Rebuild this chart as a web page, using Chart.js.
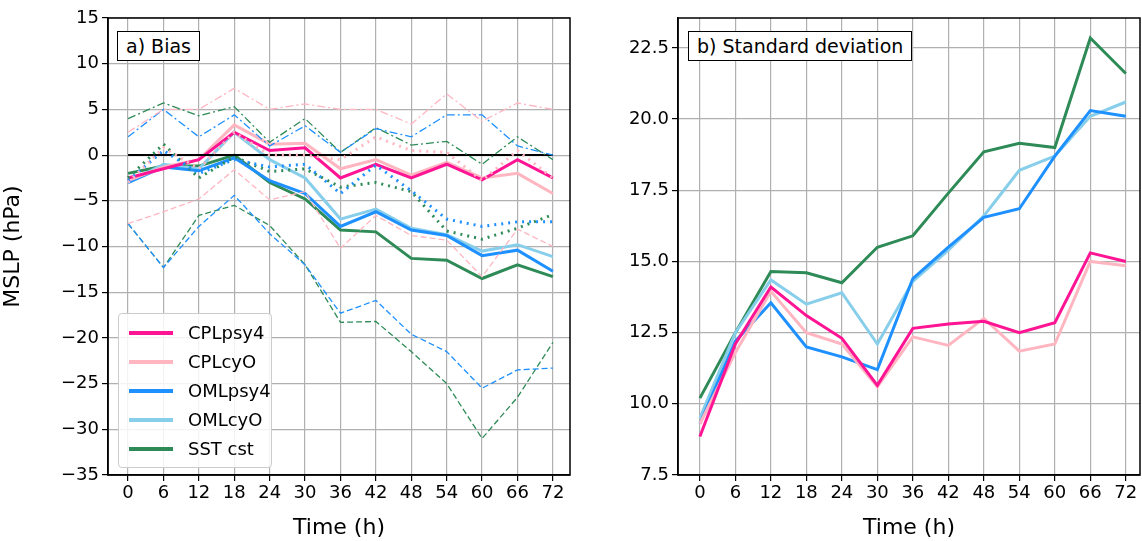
<!DOCTYPE html>
<html><head><meta charset="utf-8">
<script src="https://cdn.jsdelivr.net/npm/chart.js@4"></script>
<style>
body{margin:0;background:#fff;font-family:"DejaVu Sans",sans-serif;}
.box{position:absolute;}
.tag{position:absolute;border:1.5px solid #000;background:#fff;font-size:19px;padding:3px 8px;}
#legend{position:absolute;left:118px;top:313px;width:152px;border:1px solid #ccc;border-radius:4px;background:rgba(255,255,255,0.85);padding:4px 0;}
#legend div{display:flex;align-items:center;height:29px;font-size:18px;}
#legend span{display:inline-block;width:44px;height:4px;margin:0 15px 0 10px;}
</style></head><body>
<div class="box" style="left:0;top:0;width:575px;height:541px"><canvas id="ca"></canvas></div>
<div class="box" style="left:580px;top:0;width:562px;height:541px"><canvas id="cb"></canvas></div>
<div class="tag" style="left:117px;top:31px">a) Bias</div>
<div class="tag" style="left:688px;top:31px">b) Standard deviation</div>
<div id="legend"></div>
<script>
const hours = [0, 6, 12, 18, 24, 30, 36, 42, 48, 54, 60, 66, 72];
const names = ["CPLpsy4", "CPLcyO", "OMLpsy4", "OMLcyO", "SST cst"];
const colors = ["#ff1493", "#ffb6c1", "#1e90ff", "#87ceeb", "#2e8b57"];

// bias: mean (solid)
const biasMean = [
  [-2.5, -1.5, -0.5, 2.5, 0.5, 0.8, -2.5, -1, -2.5, -1, -2.7, -0.5, -2.5],
  [-2.8, -1.3, -0.5, 3.3, 1.2, 1.3, -1.5, -0.5, -2.2, -0.8, -2.5, -2, -4.2],
  [-3, -1.3, -1.7, -0.3, -2.8, -4.2, -7.8, -6.2, -8.2, -8.8, -11, -10.4, -12.7],
  [-3, -1, -1.5, 2.5, -0.5, -2.5, -7, -5.9, -8, -8.7, -10.5, -9.8, -11.1],
  [-2, -1.2, -1.2, 0, -3, -4.8, -8.2, -8.4, -11.3, -11.5, -13.5, -12, -13.3]
];
// bias: dotted
const biasDot = {
  1: [-3, 0.8, -1.5, 2.5, 0, 0, -0.5, 2, 0.5, 0.3, -2.8, 0.5, -2.5],
  2: [-2.8, 0.5, -2, -0.5, -1.3, -1, -4.2, -1.1, -3.9, -7, -7.8, -7.3, -7.3],
  4: [-2.5, 1.2, -2.5, -0.2, -1.8, -1.5, -3.5, -3, -4, -8.3, -9.2, -8, -6.5]
};
// bias: dash-dot (upper)
const biasUp = {
  1: [2.5, 5, 5, 7.3, 5, 5.6, 5, 5, 3.4, 6.7, 3.7, 5.7, 5],
  2: [2, 5, 2, 4.4, 1, 3.2, 0.3, 2.9, 2, 4.4, 4.4, 1, 0],
  4: [4, 5.7, 4.3, 5.3, 1.4, 4, 0.3, 3, 1.1, 1.5, -1, 2, -0.5]
};
// bias: dashed (lower)
const biasLow = {
  1: [-7.5, -6.2, -4.8, -1.6, -4.9, -4, -10.2, -6.6, -8.8, -9.3, -13.3, -8.1, -10],
  2: [-7.5, -12.3, -7.8, -4.4, -8.6, -12, -17.3, -15.9, -19.6, -21.5, -25.5, -23.5, -23.3],
  4: [-7.5, -12.3, -6.6, -5.5, -7.7, -12, -18.3, -18.2, -21.5, -25, -31, -26.5, -20.5]
};
const stdDev = [
  [8.85, 12.1, 14.1, 13.1, 12.3, 10.65, 12.65, 12.8, 12.9, 12.5, 12.85, 15.3, 15.0],
  [9.3, 11.8, 13.95, 12.5, 12.1, 10.6, 12.35, 12.05, 13.0, 11.85, 12.1, 15.0, 14.85],
  [9.3, 12.2, 13.55, 12.0, 11.65, 11.2, 14.4, 15.5, 16.55, 16.85, 18.7, 20.3, 20.1],
  [9.5, 12.5, 14.35, 13.5, 13.9, 12.1, 14.3, 15.4, 16.6, 18.2, 18.7, 20.1, 20.6],
  [10.2, 12.5, 14.65, 14.6, 14.25, 15.5, 15.9, 17.4, 18.85, 19.15, 19.0, 22.85, 21.6]
];
const biasTicks = [15, 10, 5, 0, -5, -10, -15, -20, -25, -30, -35];
const stdTicks = [7.5, 10.0, 12.5, 15.0, 17.5, 20.0, 22.5];

const pts = arr => arr.map((v, i) => ({x: hours[i], y: v}));
const line = (arr, color, width, dash) => ({
  data: pts(arr), borderColor: color, borderWidth: width, borderDash: dash || [],
  pointRadius: 0, fill: false, tension: 0
});

// full box round the plot area
const frame = {
  id: "frame",
  afterDraw(chart) {
    const a = chart.chartArea, c = chart.ctx;
    c.save(); c.strokeStyle = "#000"; c.lineWidth = 1.5;
    c.strokeRect(a.left, a.top, a.right - a.left, a.bottom - a.top);
    c.restore();
  }
};

const tickFont = {family: "DejaVu Sans", size: 18};
const titleFont = {family: "DejaVu Sans", size: 22};
const grid = {color: "#b0b0b0", lineWidth: 1.2, tickLength: 6, tickColor: "#000"};
const border = {color: "#000", width: 1.5};
function xScale(min, max) {
  return {type: "linear", min: min, max: max, grid: grid, border: border,
    afterBuildTicks: s => { s.ticks = hours.map(v => ({value: v})); },
    ticks: {font: tickFont, color: "#000", maxRotation: 0, autoSkip: false, padding: 2},
    title: {display: true, text: "Time (h)", font: titleFont, color: "#000", padding: 0},
    afterFit: s => { s.height = 66; }};
}

const dsA = [];
[1, 2, 4].forEach(k => {
  dsA.push(line(biasLow[k], colors[k], 1.3, [6, 3]));
  dsA.push(line(biasUp[k], colors[k], 1.3, [8, 3, 2, 3]));
});
[1, 2, 4].forEach(k => dsA.push(line(biasDot[k], colors[k], 3, [2, 5])));
dsA.push(line(hours.map(() => 0), "#000", 2));
biasMean.forEach((a, i) => dsA.push(line(a, colors[i], 3)));

new Chart(document.getElementById("ca"), {
  type: "line",
  data: {datasets: dsA},
  plugins: [frame],
  options: {
    responsive: true, maintainAspectRatio: false, animation: false,
    layout: {padding: {top: 18, right: 5, left: 0, bottom: 0}},
    plugins: {legend: {display: false}, tooltip: {enabled: false}},
    scales: {
      x: xScale(-3.4, 74.9),
      y: {min: -35, max: 15, grid: grid, border: border,
        afterBuildTicks: s => { s.ticks = biasTicks.map(v => ({value: v})); },
        ticks: {font: tickFont, color: "#000", padding: 3, callback: v => v < 0 ? "\u2212" + Math.abs(v) : v},
        title: {display: true, text: "MSLP (hPa)", font: titleFont, color: "#000", padding: 0},
        afterFit: s => { s.width = 108; }}
    }
  }
});

new Chart(document.getElementById("cb"), {
  type: "line",
  data: {datasets: stdDev.map((a, i) => line(a, colors[i], 3))},
  plugins: [frame],
  options: {
    responsive: true, maintainAspectRatio: false, animation: false,
    layout: {padding: {top: 18, right: 2, left: 0, bottom: 0}},
    plugins: {legend: {display: false}, tooltip: {enabled: false}},
    scales: {
      x: xScale(-3.7, 74.4),
      y: {min: 7.5, max: 23.55, grid: grid, border: border,
        afterBuildTicks: s => { s.ticks = stdTicks.map(v => ({value: v})); },
        ticks: {font: tickFont, color: "#000", padding: 3, callback: v => v.toFixed(1)},
        afterFit: s => { s.width = 98; }}
    }
  }
});

document.getElementById("legend").innerHTML = names.map((n, i) =>
  '<div><span style="background:' + colors[i] + '"></span>' + n + '</div>').join("");
</script>
</body></html>
